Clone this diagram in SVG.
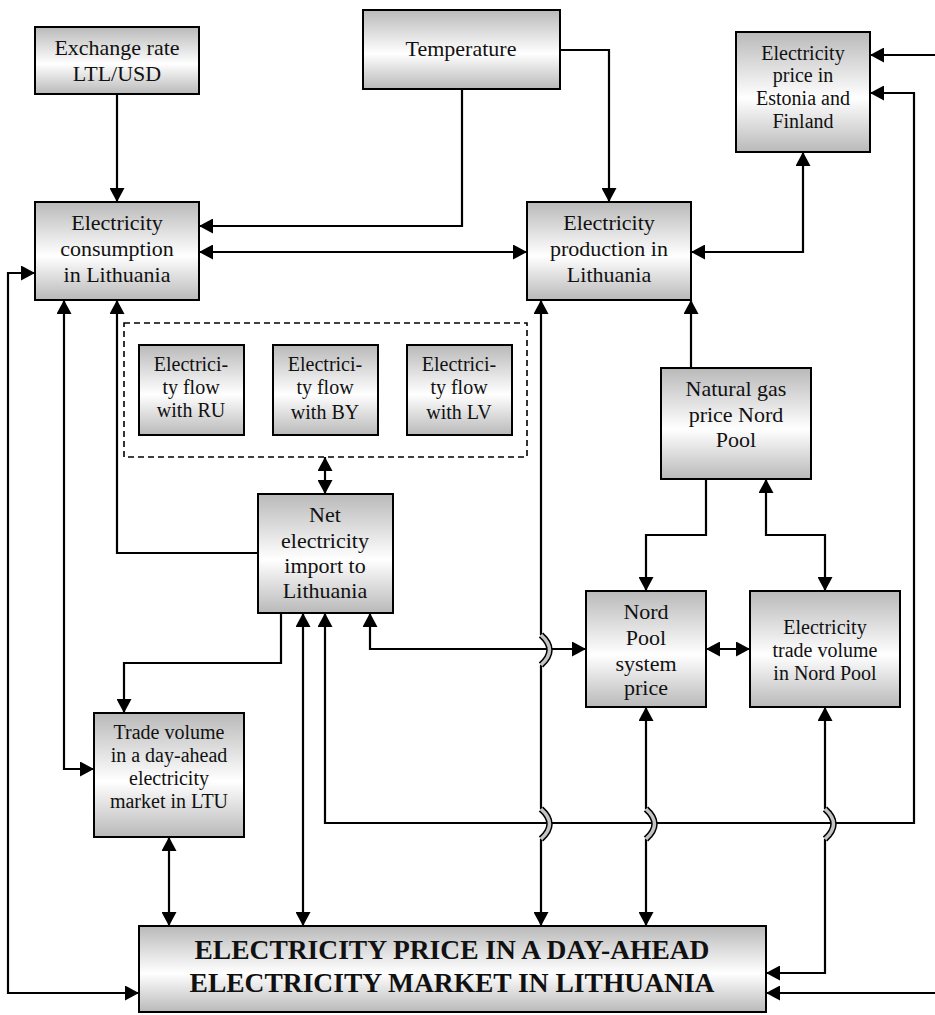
<svg xmlns="http://www.w3.org/2000/svg" width="935" height="1015" viewBox="0 0 935 1015">
<defs>
<linearGradient id="g" x1="0" y1="0" x2="0" y2="1">
<stop offset="0" stop-color="#b9b9b9"/>
<stop offset="0.55" stop-color="#ffffff"/>
<stop offset="1" stop-color="#b9b9b9"/>
</linearGradient>
<marker id="a" viewBox="0 0 14 15" refX="14" refY="7.5" markerWidth="14" markerHeight="15" markerUnits="userSpaceOnUse" orient="auto-start-reverse">
<path d="M0,0 L14,7.5 L0,15 Z" fill="#000"/>
</marker>
</defs>
<style>
.box{fill:url(#g);stroke:#000;stroke-width:2}
.t{font-family:"Liberation Serif","Times New Roman",serif;font-size:22px;text-anchor:middle;fill:#111}
.s{font-size:20px}
.b{font-weight:bold;font-size:27.5px}
.c{fill:none;stroke:#000;stroke-width:2.2}
.e{marker-end:url(#a)}
.se{marker-start:url(#a);marker-end:url(#a)}
.st{marker-start:url(#a)}
.jo{fill:none;stroke:#000;stroke-width:6.5}
.ji{fill:none;stroke:#c4c4c4;stroke-width:3.5}
</style>
<rect width="935" height="1015" fill="#fff"/>
<g id="connectors">
<path class="c e" d="M117,94 L117,202"/>
<path class="c e" d="M462,89 L462,226 L199,226"/>
<path class="c e" d="M560,50 L609,50 L609,202"/>
<path class="c se" d="M199,252 L527,252"/>
<path class="c se" d="M691,252 L803,252 L803,152"/>
<path class="c e" d="M935,55 L870,55"/>
<path class="c se" d="M325,613 L325,823 L914,823 L914,93 L870,93"/>
<path class="c se" d="M35,273 L8,273 L8,993 L139,993"/>
<path class="c se" d="M64,300 L64,769 L94,769"/>
<path class="c st" d="M117,300 L117,553 L258,553"/>
<path class="c e" d="M281,613 L281,663 L124,663 L124,713"/>
<path class="c se" d="M303,613 L303,926"/>
<path class="c se" d="M370,613 L370,649 L586,649"/>
<path class="c se" d="M325,457 L325,494"/>
<path class="c e" d="M691,368 L691,300"/>
<path class="c e" d="M706,479 L706,535 L646,535 L646,591"/>
<path class="c se" d="M766,479 L766,535 L825,535 L825,591"/>
<path class="c se" d="M706,649 L750,649"/>
<path class="c se" d="M541,300 L541,635 M541,665 L541,809 M541,839 L541,926"/>
<path class="c se" d="M646,707 L646,809 M646,839 L646,926"/>
<path class="c se" d="M825,707 L825,809 M825,839 L825,973 L766,973"/>
<path class="c se" d="M169,837 L169,926"/>
<path class="c e" d="M935,993 L766,993"/>
<g id="jumps">
<path class="jo" d="M541,635 Q558,650 541,665"/>
<path class="ji" d="M541,635 Q558,650 541,665"/>
<path class="jo" d="M541,809 Q558,824 541,839"/>
<path class="ji" d="M541,809 Q558,824 541,839"/>
<path class="jo" d="M646,809 Q663,824 646,839"/>
<path class="ji" d="M646,809 Q663,824 646,839"/>
<path class="jo" d="M825,809 Q842,824 825,839"/>
<path class="ji" d="M825,809 Q842,824 825,839"/>
</g>
</g>
<g id="exchange">
<rect class="box" x="35" y="27" width="164" height="67"/>
<text class="t" x="117" y="55">Exchange rate</text>
<text class="t" x="117" y="81">LTL/USD</text>
</g>
<g id="temperature">
<rect class="box" x="363" y="10" width="197" height="79"/>
<text class="t" x="461" y="56">Temperature</text>
</g>
<g id="estonia">
<rect class="box" x="736" y="32" width="134" height="120"/>
<text class="t s" x="803" y="60">Electricity</text>
<text class="t s" x="803" y="82">price in</text>
<text class="t s" x="803" y="105">Estonia and</text>
<text class="t s" x="803" y="128">Finland</text>
</g>
<g id="consumption">
<rect class="box" x="35" y="202" width="164" height="98"/>
<text class="t" x="117" y="230">Electricity</text>
<text class="t" x="117" y="256">consumption</text>
<text class="t" x="117" y="282">in Lithuania</text>
</g>
<g id="production">
<rect class="box" x="527" y="202" width="164" height="98"/>
<text class="t" x="609" y="230">Electricity</text>
<text class="t" x="609" y="256">production in</text>
<text class="t" x="609" y="282">Lithuania</text>
</g>
<g id="flows">
<rect x="124" y="323" width="403" height="134" fill="none" stroke="#000" stroke-width="1.6" stroke-dasharray="6,4"/>
<g id="flow-ru">
<rect class="box" x="139" y="345" width="105" height="90"/>
<text class="t s" x="191" y="371">Electrici-</text>
<text class="t s" x="191" y="394">ty flow</text>
<text class="t s" x="191" y="417">with RU</text>
</g>
<g id="flow-by">
<rect class="box" x="273" y="345" width="105" height="90"/>
<text class="t s" x="325" y="371">Electrici-</text>
<text class="t s" x="325" y="394">ty flow</text>
<text class="t s" x="325" y="419">with BY</text>
</g>
<g id="flow-lv">
<rect class="box" x="407" y="345" width="105" height="90"/>
<text class="t s" x="459" y="371">Electrici-</text>
<text class="t s" x="459" y="394">ty flow</text>
<text class="t s" x="459" y="419">with LV</text>
</g>
</g>
<g id="netimport">
<rect class="box" x="258" y="494" width="135" height="119"/>
<text class="t" x="325" y="522">Net</text>
<text class="t" x="325" y="548">electricity</text>
<text class="t" x="325" y="573">import to</text>
<text class="t" x="325" y="598">Lithuania</text>
</g>
<g id="gas">
<rect class="box" x="661" y="368" width="150" height="111"/>
<text class="t" x="736" y="396">Natural gas</text>
<text class="t" x="736" y="422">price Nord</text>
<text class="t" x="736" y="447">Pool</text>
</g>
<g id="nordpool">
<rect class="box" x="586" y="591" width="120" height="116"/>
<text class="t" x="646" y="619">Nord</text>
<text class="t" x="646" y="645">Pool</text>
<text class="t" x="646" y="671">system</text>
<text class="t" x="646" y="695">price</text>
</g>
<g id="tradenp">
<rect class="box" x="750" y="591" width="150" height="116"/>
<text class="t s" x="825" y="634">Electricity</text>
<text class="t s" x="825" y="657">trade volume</text>
<text class="t s" x="825" y="680">in Nord Pool</text>
</g>
<g id="tradeltu">
<rect class="box" x="94" y="713" width="150" height="124"/>
<text class="t s" x="169" y="739">Trade volume</text>
<text class="t s" x="169" y="762">in a day-ahead</text>
<text class="t s" x="169" y="785">electricity</text>
<text class="t s" x="169" y="808">market in LTU</text>
</g>
<g id="price">
<rect class="box" x="139" y="926" width="627" height="86"/>
<text class="t b" x="452" y="959">ELECTRICITY PRICE IN A DAY-AHEAD</text>
<text class="t b" x="452" y="992">ELECTRICITY MARKET IN LITHUANIA</text>
</g>
</svg>
